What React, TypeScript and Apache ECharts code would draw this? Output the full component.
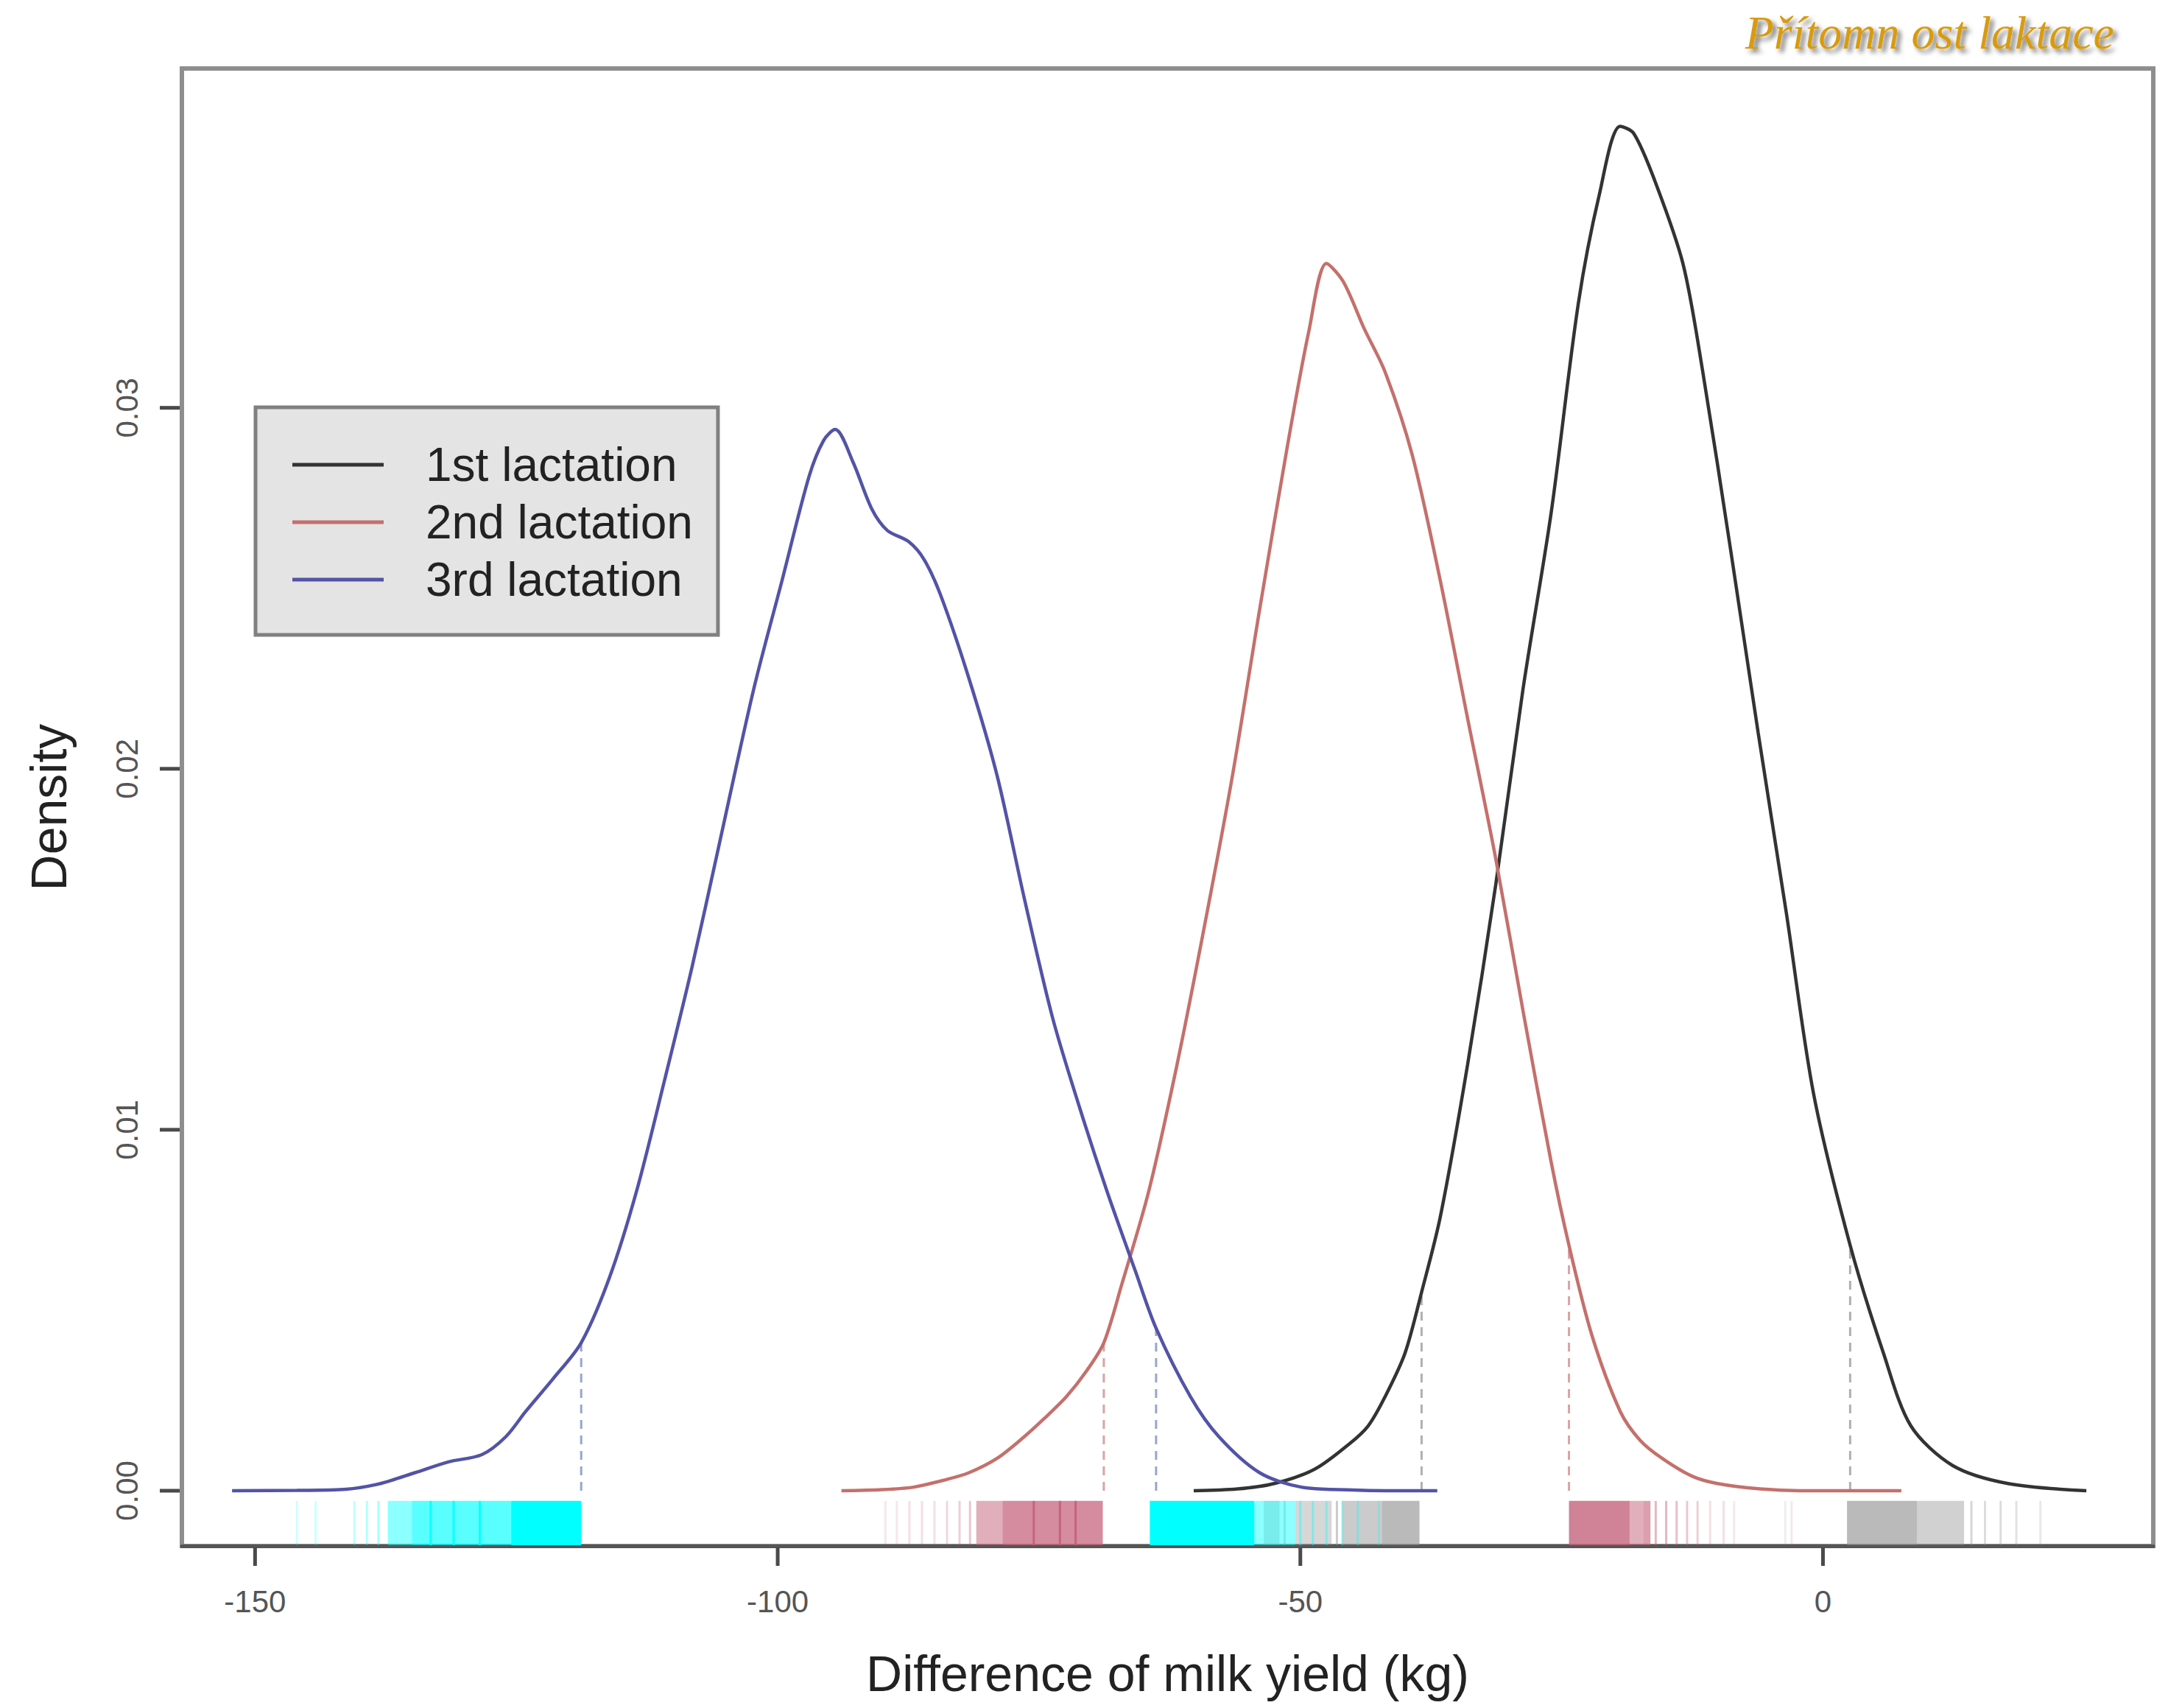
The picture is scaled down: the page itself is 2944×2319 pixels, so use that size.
import React, { useEffect, useRef } from "react";
import * as echarts from "echarts";

// ---------- data ----------
const SERIES_NAMES = ["1st lactation", "2nd lactation", "3rd lactation"];
const X_TICKS = [-150, -100, -50, 0];
const Y_TICKS = [0, 0.01, 0.02, 0.03];
const TITLE = "Přítomn ost laktace";
const X_TITLE = "Difference of milk yield (kg)";
const Y_TITLE = "Density";

// 1st lactation density curve
const LAC1_X = [-60.2, -56, -52.5, -48.6, -45.3, -43.5, -41.9, -40, -38.4, -36.6, -34.0, -31.3, -28.7, -26.0, -23.4, -21.4, -19.4, -18.1, -16.1, -13.4, -11.5, -8.8, -6.2, -3.5, -0.9, 2.6, 5.8, 8.4, 12.4, 17.7, 25.2];
const LAC1_Y = [0, 0.00005, 0.0002, 0.0006, 0.0013, 0.0018, 0.0026, 0.0038, 0.0055, 0.0076, 0.0118, 0.0168, 0.0222, 0.0271, 0.0329, 0.0359, 0.0378, 0.0376, 0.0363, 0.034, 0.031, 0.026, 0.021, 0.016, 0.011, 0.0068, 0.0038, 0.0018, 0.0007, 0.0002, 0];

// 2nd lactation density curve
const LAC2_X = [-93.9, -90, -87.0, -84, -81.7, -79, -76.4, -74.5, -72.4, -70.5, -68.8, -67.1, -64.5, -61.8, -59.2, -56.5, -53.9, -51.2, -49.2, -47.5, -45.9, -43.9, -41.9, -39.3, -36.6, -34.0, -31.3, -28.7, -26.0, -24.3, -22.1, -19.4, -17.5, -15.4, -12.5, -10.1, -6, -2.2, 7.5];
const LAC2_Y = [0, 0.00003, 0.0001, 0.0003, 0.0005, 0.0009, 0.0015, 0.002, 0.0026, 0.0033, 0.0041, 0.0057, 0.0083, 0.0118, 0.0156, 0.0198, 0.0244, 0.029, 0.0321, 0.034, 0.0335, 0.0322, 0.031, 0.0287, 0.0252, 0.0214, 0.0175, 0.0133, 0.0091, 0.0068, 0.0043, 0.0022, 0.0014, 0.0009, 0.0004, 0.0002, 0.00005, 0, 0];

// 3rd lactation density curve
const LAC3_X = [-152.2, -146, -141.3, -138, -134.7, -131.5, -128.3, -126, -124.1, -121.5, -118.8, -116.1, -113.5, -110.8, -108.2, -105.6, -102.3, -99.6, -97.0, -95.6, -94.5, -92.8, -91, -89.5, -87.5, -86, -84.4, -81.7, -79.0, -76.4, -73.7, -71.1, -68.5, -65.8, -63.8, -60.5, -57.8, -53.9, -49.9, -45, -41.9, -36.9];
const LAC3_Y = [0, 0.00001, 0.00004, 0.0002, 0.0005, 0.0008, 0.001, 0.0015, 0.0022, 0.0031, 0.0041, 0.0059, 0.0083, 0.0114, 0.0145, 0.0179, 0.0222, 0.0252, 0.0281, 0.0291, 0.0294, 0.0285, 0.0272, 0.0266, 0.0263, 0.0258, 0.0248, 0.0225, 0.0198, 0.0164, 0.0131, 0.0106, 0.0083, 0.0061, 0.0045, 0.0026, 0.0015, 0.0005, 0.0001, 0.00002, 0, 0];

// interval limits (dashed verticals): x position and curve height
const LAC1_LIMITS = [[-38.4, 0.0055], [2.6, 0.0068]];
const LAC2_LIMITS = [[-68.8, 0.0041], [-24.3, 0.0068]];
const LAC3_LIMITS = [[-118.8, 0.0041], [-63.8, 0.0045]];

// rug strips: [from, to, opacity]
const LAC1_RUG = [
  [-53.5, -52, 0.3], [-51.5, -51.5, 0.35], [-50.5, -47, 0.35], [-46.5, -46.5, 0.45], [-46, -42.2, 0.45], [-42.2, -38.6, 0.6],
  [2.3, 9.0, 0.6], [9.0, 13.5, 0.4], [14.2, 14.2, 0.35], [15.5, 15.5, 0.3], [17, 17, 0.3], [18.5, 18.5, 0.25], [20.8, 20.8, 0.2], [-3.6, -3.6, 0.15],
];
const LAC2_RUG = [
  [-89.7, -89.7, 0.15], [-88.6, -88.6, 0.15], [-87.4, -87.4, 0.2], [-86.2, -86.2, 0.2], [-85, -85, 0.2], [-83.8, -83.8, 0.25], [-82.6, -82.6, 0.3], [-81.6, -81.6, 0.35],
  [-81, -78.5, 0.5], [-78.5, -68.9, 0.72], [-75.5, -75.5, 0.9], [-73, -73, 0.9], [-71.5, -71.5, 0.9],
  [-24.3, -18.5, 0.78], [-18.5, -17.2, 0.5], [-17.2, -16.5, 0.6], [-16, -16, 0.45], [-15, -15, 0.45], [-14, -14, 0.4], [-13, -13, 0.35], [-12, -12, 0.3],
  [-10.8, -10.8, 0.2], [-9.5, -9.5, 0.2], [-8.5, -8.5, 0.15], [-3, -3, 0.15],
];
const LAC3_RUG = [
  [-146.0, -146.0, 0.2], [-144.2, -144.2, 0.2], [-140.5, -140.5, 0.25], [-139.3, -139.3, 0.3], [-138.2, -138.2, 0.35],
  [-137.3, -135.0, 0.45], [-135.0, -125.5, 0.65], [-133.2, -133.2, 0.9], [-131.0, -131.0, 0.9], [-128.5, -128.5, 0.9], [-125.5, -118.8, 1.0],
  [-64.4, -54.4, 1.0], [-54.4, -50.5, 0.45], [-50, -50, 0.4], [-48.8, -48.8, 0.4], [-47.5, -47.5, 0.35], [-46, -46, 0.3], [-44.5, -44.5, 0.3], [-42.5, -42.5, 0.25],
];

// ---------- styling ----------
const COLORS = ["#333333", "#c4706c", "#5353a6"];
const DASH_COLORS = ["#b0b0b0", "#d8a4a4", "#98a6cc"];
const RUG_RGB = ["140,140,140", "195,95,120", "0,255,255"];
const FONT = "'Liberation Sans', Arial, Helvetica, sans-serif";
const TICK_COLOR = "#4a4a4a";
const X_MIN = -157;
const X_MAX = 31.6;
const Y_MIN = -0.00153;
const Y_MAX = 0.0394;

const zip = (xs: number[], ys: number[]) => xs.map((x, i) => [x, ys[i]]);

function rugSeries(name: string, rows: number[][], rgb: string) {
  return {
    type: "custom",
    name,
    silent: true,
    z: 1,
    data: rows,
    encode: { x: [0, 1] },
    renderItem: (params: any, api: any) => {
      const a = api.value(0);
      const b = api.value(1);
      const alpha = api.value(2);
      const cs = params.coordSys;
      const bottom = cs.y + cs.height;
      const h = cs.height * 0.03;
      const p0 = api.coord([a, 0])[0];
      const p1 = api.coord([b, 0])[0];
      const narrow = p1 - p0 < 3;
      return {
        type: "rect",
        shape: { x: narrow ? (p0 + p1) / 2 - 1.5 : p0, y: bottom - h - 1, width: narrow ? 3 : p1 - p0, height: h },
        style: { fill: `rgba(${rgb},${alpha})` },
      };
    },
  };
}

function limitSeries(name: string, rows: number[][], color: string) {
  return {
    type: "custom",
    name,
    silent: true,
    z: 2,
    data: rows,
    encode: { x: 0, y: 1 },
    renderItem: (params: any, api: any) => {
      const x = api.value(0);
      const top = api.value(1);
      const p0 = api.coord([x, 0]);
      const p1 = api.coord([x, top]);
      return {
        type: "line",
        shape: { x1: p0[0], y1: p0[1], x2: p1[0], y2: p1[1] },
        style: { stroke: color, lineWidth: 3, lineDash: [12, 9] },
      };
    },
  };
}

function curveSeries(name: string, xs: number[], ys: number[], color: string) {
  return {
    type: "line",
    name,
    z: 3,
    data: zip(xs, ys),
    showSymbol: false,
    smooth: 0.3,
    itemStyle: { color },
    lineStyle: { color, width: 4.5 },
  };
}

export default function App() {
  const ref = useRef<HTMLDivElement>(null);

  useEffect(() => {
    if (!ref.current) return;
    const chart = echarts.init(ref.current, undefined, { renderer: "svg" });
    const option: any = {
      animation: false,
      backgroundColor: "#ffffff",
      textStyle: { fontFamily: FONT },
      grid: {
        left: 247,
        top: 93,
        right: 20,
        bottom: 220,
        show: true,
        borderColor: "#8e8e8e",
        borderWidth: 6,
        backgroundColor: "transparent",
      },
      xAxis: {
        type: "value",
        min: X_MIN,
        max: X_MAX,
        name: X_TITLE,
        nameLocation: "middle",
        nameGap: 139,
        nameTextStyle: { fontSize: 68, color: "#222", fontFamily: FONT, lineHeight: 68 },
        axisLine: { show: true, onZero: false, lineStyle: { color: "#555", width: 5 } },
        axisTick: { show: false },
        axisLabel: {
          show: true,
          customValues: X_TICKS,
          margin: 54,
          fontSize: 42,
          lineHeight: 42,
          color: "#555",
          fontFamily: FONT,
          formatter: (v: number) => String(v),
        },
        splitLine: { show: false },
      },
      yAxis: {
        type: "value",
        min: Y_MIN,
        max: Y_MAX,
        name: Y_TITLE,
        nameLocation: "middle",
        nameGap: 147,
        nameRotate: 90,
        nameTextStyle: { fontSize: 68, color: "#222", fontFamily: FONT, lineHeight: 68 },
        axisLine: { show: true, onZero: false, lineStyle: { color: "#8e8e8e", width: 6 } },
        axisTick: { show: false },
        axisLabel: {
          show: true,
          customValues: Y_TICKS,
          rotate: 90,
          margin: 54,
          fontSize: 42,
          lineHeight: 42,
          color: "#555",
          fontFamily: FONT,
          formatter: (v: number) => v.toFixed(2),
        },
        splitLine: { show: false },
      },
      legend: {
        data: SERIES_NAMES,
        orient: "vertical",
        left: 347,
        top: 553,
        padding: [46, 34, 43, 50],
        backgroundColor: "#e4e4e4",
        borderColor: "#808080",
        borderWidth: 5,
        borderRadius: 0,
        icon: "rect",
        itemWidth: 124,
        itemHeight: 5,
        itemGap: 14,
        selectedMode: false,
        textStyle: {
          fontSize: 64,
          lineHeight: 64,
          color: "#222",
          fontFamily: FONT,
          padding: [0, 0, 0, 52],
        },
      },
      graphic: [
        {
          id: "title",
          type: "text",
          right: 73,
          top: 12,
          z: 10,
          style: {
            text: TITLE,
            font: "italic 64px 'Liberation Serif', 'Times New Roman', serif",
            fill: "#d99b0c",
            textShadowColor: "rgba(0,0,0,0.55)",
            textShadowBlur: 6,
            textShadowOffsetX: 5,
            textShadowOffsetY: 5,
          },
        },
      ],
      series: [
        rugSeries("rug 1st", LAC1_RUG, RUG_RGB[0]),
        rugSeries("rug 2nd", LAC2_RUG, RUG_RGB[1]),
        rugSeries("rug 3rd", LAC3_RUG, RUG_RGB[2]),
        limitSeries("limits 1st", LAC1_LIMITS, DASH_COLORS[0]),
        limitSeries("limits 2nd", LAC2_LIMITS, DASH_COLORS[1]),
        limitSeries("limits 3rd", LAC3_LIMITS, DASH_COLORS[2]),
        curveSeries(SERIES_NAMES[0], LAC1_X, LAC1_Y, COLORS[0]),
        curveSeries(SERIES_NAMES[1], LAC2_X, LAC2_Y, COLORS[1]),
        curveSeries(SERIES_NAMES[2], LAC3_X, LAC3_Y, COLORS[2]),
      ],
    };
    chart.setOption(option);

    // axis tick marks outside the frame, positioned through the chart's own scales
    const ticks: any[] = [];
    X_TICKS.forEach((v, i) => {
      const p = chart.convertToPixel({ gridIndex: 0 }, [v, Y_MIN]) as number[];
      ticks.push({
        id: "xt" + i,
        type: "rect",
        z: 20,
        silent: true,
        shape: { x: p[0] - 2.5, y: p[1] + 2, width: 5, height: 25 },
        style: { fill: TICK_COLOR },
      });
    });
    Y_TICKS.forEach((v, i) => {
      const p = chart.convertToPixel({ gridIndex: 0 }, [X_MIN, v]) as number[];
      ticks.push({
        id: "yt" + i,
        type: "rect",
        z: 20,
        silent: true,
        shape: { x: p[0] - 30, y: p[1] - 2.5, width: 27, height: 5 },
        style: { fill: TICK_COLOR },
      });
    });
    chart.setOption({ graphic: ticks });
    return () => chart.dispose();
  }, []);

  return (
    <div
      ref={ref}
      style={{ position: "fixed", left: 0, top: 0, width: 2944, height: 2319, background: "#fff" }}
    />
  );
}
